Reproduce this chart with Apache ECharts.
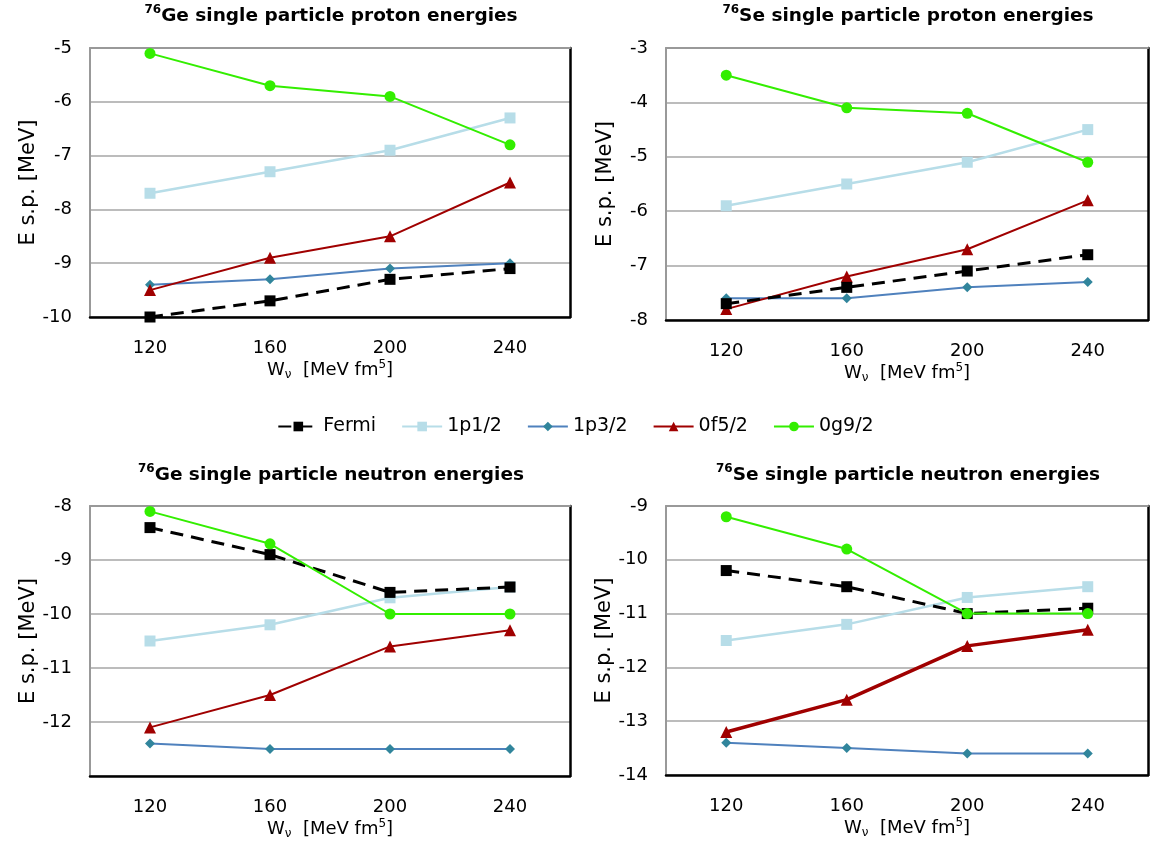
<!DOCTYPE html>
<html>
<head>
<meta charset="utf-8">
<script src="https://cdn.jsdelivr.net/npm/echarts@6/dist/echarts.min.js"></script>
<style>html,body{margin:0;padding:0;background:#fff;}#c{width:1151px;height:849px;}</style>
</head>
<body>
<div id="c"></div>
<script>
// ---- data ----
const categories = ['120', '160', '200', '240'];
const seriesNames = ['Fermi', '1p1/2', '1p3/2', '0f5/2', '0g9/2'];

// 76Ge protons
const geP_Fermi = [-10.0, -9.7, -9.3, -9.1];
const geP_1p12  = [-7.7, -7.3, -6.9, -6.3];
const geP_1p32  = [-9.4, -9.3, -9.1, -9.0];
const geP_0f52  = [-9.5, -8.9, -8.5, -7.5];
const geP_0g92  = [-5.1, -5.7, -5.9, -6.8];

// 76Se protons
const seP_Fermi = [-7.7, -7.4, -7.1, -6.8];
const seP_1p12  = [-5.9, -5.5, -5.1, -4.5];
const seP_1p32  = [-7.6, -7.6, -7.4, -7.3];
const seP_0f52  = [-7.8, -7.2, -6.7, -5.8];
const seP_0g92  = [-3.5, -4.1, -4.2, -5.1];

// 76Ge neutrons
const geN_Fermi = [-8.4, -8.9, -9.6, -9.5];
const geN_1p12  = [-10.5, -10.2, -9.7, -9.5];
const geN_1p32  = [-12.4, -12.5, -12.5, -12.5];
const geN_0f52  = [-12.1, -11.5, -10.6, -10.3];
const geN_0g92  = [-8.1, -8.7, -10.0, -10.0];

// 76Se neutrons
const seN_Fermi = [-10.2, -10.5, -11.0, -10.9];
const seN_1p12  = [-11.5, -11.2, -10.7, -10.5];
const seN_1p32  = [-13.4, -13.5, -13.6, -13.6];
const seN_0f52  = [-13.2, -12.6, -11.6, -11.3];
const seN_0g92  = [-9.2, -9.8, -11.0, -11.0];

// y-axis ranges
const yRanges = [[-10, -5], [-8, -3], [-13, -8], [-14, -9]];
const titles = ['Ge single particle proton energies', 'Se single particle proton energies',
                'Ge single particle neutron energies', 'Se single particle neutron energies'];
const panelData = [
  [geP_Fermi, geP_1p12, geP_1p32, geP_0f52, geP_0g92],
  [seP_Fermi, seP_1p12, seP_1p32, seP_0f52, seP_0g92],
  [geN_Fermi, geN_1p12, geN_1p32, geN_0f52, geN_0g92],
  [seN_Fermi, seN_1p12, seN_1p32, seN_0f52, seN_0g92]
];

// ---- styling ----
const FONT = "'DejaVu Sans', 'Liberation Sans', Arial, sans-serif";
const grids = [
  {left: 90, top: 48, width: 480, height: 269},
  {left: 666, top: 48, width: 482, height: 272},
  {left: 90, top: 506, width: 480, height: 270},
  {left: 666, top: 506, width: 482, height: 269}
];
const titleTops = [-1, -1, 458, 458];
const styles = [
  {color: '#000000', symbol: 'rect', size: 11, width: 3, type: [13, 8], z: 5},
  {color: '#b7dde8', symbol: 'rect', size: 11, width: 2.5, type: 'solid', z: 2},
  {color: '#4f81bd', mcolor: '#31859c', symbol: 'diamond', size: 10, width: 2, type: 'solid', z: 3},
  {color: '#a00000', symbol: 'triangle', size: 12, width: 2, type: 'solid', z: 4},
  {color: '#33ee00', symbol: 'circle', size: 11, width: 2, type: 'solid', z: 6}
];

const xAxes = [], yAxes = [], series = [], titleComps = [];
grids.forEach((g, i) => {
  xAxes.push({
    gridIndex: i, type: 'category', data: categories, boundaryGap: true, position: 'bottom',
    axisLine: {lineStyle: {color: '#000', width: 2.5}},
    axisTick: {show: false},
    axisLabel: {color: '#000', fontSize: 18, fontFamily: FONT, margin: 22},
    name: '{t|W}{sub|ν}{t|  [MeV fm}{sup|5}{t|]}',
    nameLocation: 'middle', nameGap: 42,
    nameTextStyle: {
      rich: {
        t: {fontSize: 18, color: '#000', fontFamily: FONT, lineHeight: 22},
        sub: {fontSize: 12, color: '#000', fontFamily: FONT, verticalAlign: 'bottom', lineHeight: 18},
        sup: {fontSize: 12, color: '#000', fontFamily: FONT, verticalAlign: 'top', lineHeight: 22}
      }
    }
  });
  xAxes.push({
    gridIndex: i, type: 'category', data: categories, position: 'top',
    axisLine: {lineStyle: {color: '#999', width: 2}},
    axisTick: {show: false}, axisLabel: {show: false}
  });
  yAxes.push({
    gridIndex: i, type: 'value', min: yRanges[i][0], max: yRanges[i][1], interval: 1, position: 'left',
    axisLine: {show: true, lineStyle: {color: '#999', width: 2}},
    axisTick: {show: false},
    axisLabel: {color: '#000', fontSize: 18, fontFamily: FONT, margin: 18, showMinLabel: i !== 2},
    splitLine: {lineStyle: {color: '#a6a6a6', width: 1.5}},
    name: 'E s.p. [MeV]', nameLocation: 'middle', nameGap: 50,
    nameTextStyle: {fontSize: 21, color: '#000', fontFamily: FONT}
  });
  yAxes.push({
    gridIndex: i, type: 'value', min: yRanges[i][0], max: yRanges[i][1], interval: 1, position: 'right',
    axisLine: {show: true, lineStyle: {color: '#000', width: 2.5}},
    axisTick: {show: false}, axisLabel: {show: false}, splitLine: {show: false}
  });
  titleComps.push({
    text: '{s|76}{m|' + titles[i] + '}',
    left: g.left + g.width / 2 - 4, textAlign: 'center', top: titleTops[i],
    textStyle: {
      rich: {
        s: {fontSize: 12, fontWeight: 'bold', color: '#000', fontFamily: FONT, verticalAlign: 'top', lineHeight: 24},
        m: {fontSize: 18.5, fontWeight: 'bold', color: '#000', fontFamily: FONT, lineHeight: 24}
      }
    }
  });
  panelData[i].forEach((d, k) => {
    const s = styles[k];
    let w = s.width;
    if (i === 3 && k === 3) w = 3.5;
    series.push({
      name: seriesNames[k], type: 'line', xAxisIndex: 2 * i, yAxisIndex: 2 * i, data: d,
      symbol: s.symbol, symbolSize: s.size, z: s.z,
      lineStyle: {color: s.color, width: w, type: s.type},
      itemStyle: {color: s.mcolor || s.color},
      animation: false
    });
  });
});

const chart = echarts.init(document.getElementById('c'), null, {renderer: 'canvas'});
chart.setOption({
  backgroundColor: '#fff',
  animation: false,
  title: titleComps,
  legend: {
    data: seriesNames, left: 'center', top: 412,
    itemWidth: 40, itemHeight: 12, itemGap: 25,
    textStyle: {fontSize: 19, color: '#000', fontFamily: FONT}
  },
  grid: grids.map(g => Object.assign({containLabel: false}, g)),
  xAxis: xAxes,
  yAxis: yAxes,
  series: series
});
</script>
</body>
</html>
